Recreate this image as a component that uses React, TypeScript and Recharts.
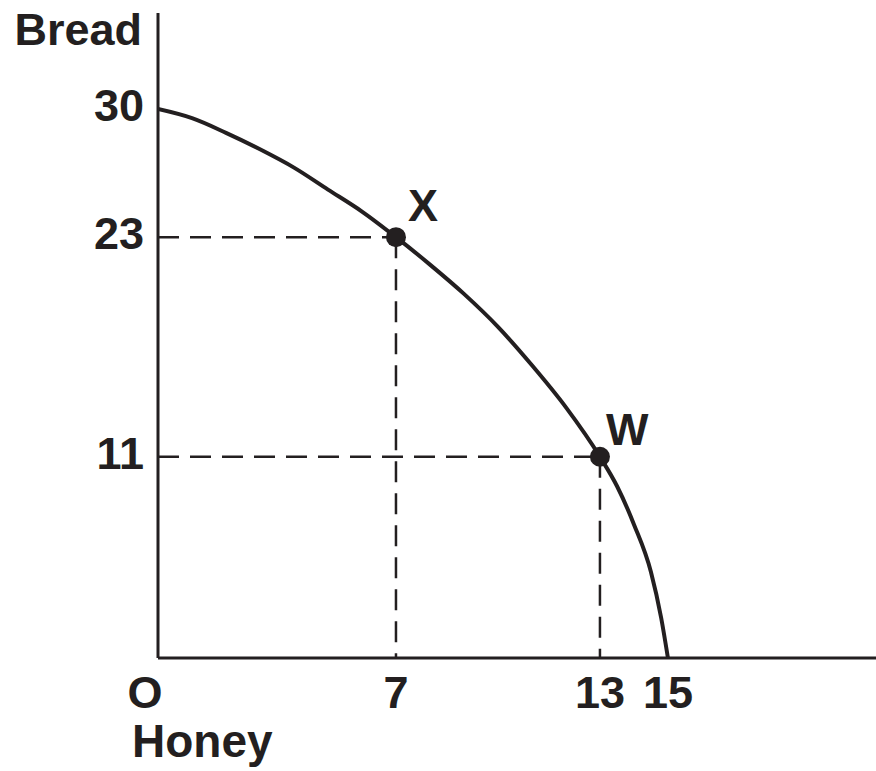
import React from 'react';
import { ComposedChart, Line, Scatter, XAxis, YAxis, ReferenceLine } from 'recharts';

// Production possibilities frontier (Honey on x, Bread on y)
const curveHoney = [0, 1, 2, 3, 4, 5, 6, 7, 8, 9, 10, 11, 12, 13, 13.5, 14, 14.5, 14.8, 15];
const curveBread = [30, 29.5, 28.7, 27.8, 26.8, 25.6, 24.4, 23, 21.5, 19.9, 18.1, 16, 13.7, 11, 9.4, 7.3, 4.7, 2.2, 0];

const pointNames = ['X', 'W'];
const pointHoney = [7, 13];
const pointBread = [23, 11];

const honeyTicks = [0, 7, 13, 15];
const honeyTickLabels = ['O', '7', '13', '15'];
const breadTicks = [11, 23, 30];

const curveData = curveHoney.map((x, i) => ({ x, y: curveBread[i] }));
const pointData = pointNames.map((name, i) => ({ name, x: pointHoney[i], y: pointBread[i] }));

const INK = '#231f20';
const FONT = '"Liberation Sans", Arial, Helvetica, sans-serif';
const textProps = { fontFamily: FONT, fontWeight: 700, fontSize: 45, fill: INK };
const labelOffsets: Record<string, { dx: number; dy: number }> = {
  X: { dx: 12, dy: -16 },
  W: { dx: 6, dy: -12 },
};

const XTick = (props: any) => {
  const { x, y, payload } = props;
  const idx = honeyTicks.indexOf(payload.value);
  const label = idx >= 0 ? honeyTickLabels[idx] : String(payload.value);
  const dx = payload.value === 0 ? -13 : 0;
  return (
    <text x={x + dx} y={y + 50} textAnchor="middle" {...textProps}>
      {label}
    </text>
  );
};

const YTick = (props: any) => {
  const { x, y, payload } = props;
  return (
    <text x={x} y={y + 12} textAnchor="end" {...textProps}>
      {payload.value}
    </text>
  );
};

const PointShape = (props: any) => {
  const { cx, cy, payload } = props;
  const off = labelOffsets[payload.name] || { dx: 10, dy: -12 };
  return (
    <g>
      <circle cx={cx} cy={cy} r={10} fill={INK} />
      <text x={cx + off.dx} y={cy + off.dy} textAnchor="start" {...textProps}>
        {payload.name}
      </text>
    </g>
  );
};

const BreadTitle = (props: any) => {
  const vb = props.viewBox || { x: 0, y: 13, width: 158, height: 645 };
  return (
    <text x={vb.x + vb.width - 16} y={vb.y + 32} textAnchor="end" {...textProps}>
      Bread
    </text>
  );
};

const HoneyTitle = (props: any) => {
  const vb = props.viewBox || { x: 158, y: 658, width: 718, height: 113 };
  return (
    <text x={vb.x - 26} y={vb.y + 99} textAnchor="start" {...textProps} fontSize={46}>
      Honey
    </text>
  );
};

export default function App() {
  return (
    <div style={{ position: 'absolute', left: 0, top: 0, width: 876, height: 771, background: '#fff' }}>
      <ComposedChart width={876} height={771} margin={{ top: 13, right: 0, bottom: 0, left: 0 }}>
        <XAxis
          type="number"
          dataKey="x"
          domain={[0, 21.12]}
          ticks={honeyTicks}
          interval={0}
          tickSize={0}
          tickMargin={0}
          tickLine={false}
          height={113}
          axisLine={{ stroke: INK, strokeWidth: 3 }}
          tick={<XTick />}
          label={HoneyTitle}
          allowDataOverflow
        />
        <YAxis
          type="number"
          dataKey="y"
          domain={[0, 35.25]}
          ticks={breadTicks}
          interval={0}
          tickSize={0}
          tickMargin={14}
          tickLine={false}
          width={158}
          axisLine={{ stroke: INK, strokeWidth: 3 }}
          tick={<YTick />}
          label={BreadTitle}
          allowDataOverflow
        />
        {pointData.map((p) => (
          <ReferenceLine
            key={'h' + p.name}
            segment={[{ x: 0, y: p.y }, { x: p.x, y: p.y }]}
            stroke={INK}
            strokeWidth={2.5}
            strokeDasharray="21 11"
          />
        ))}
        {pointData.map((p) => (
          <ReferenceLine
            key={'v' + p.name}
            segment={[{ x: p.x, y: p.y }, { x: p.x, y: 0 }]}
            stroke={INK}
            strokeWidth={2.5}
            strokeDasharray="21 11"
          />
        ))}
        <Line
          data={curveData}
          dataKey="y"
          type="monotone"
          stroke={INK}
          strokeWidth={4}
          dot={false}
          activeDot={false}
          isAnimationActive={false}
        />
        <Scatter data={pointData} dataKey="y" shape={<PointShape />} isAnimationActive={false} />
      </ComposedChart>
    </div>
  );
}
